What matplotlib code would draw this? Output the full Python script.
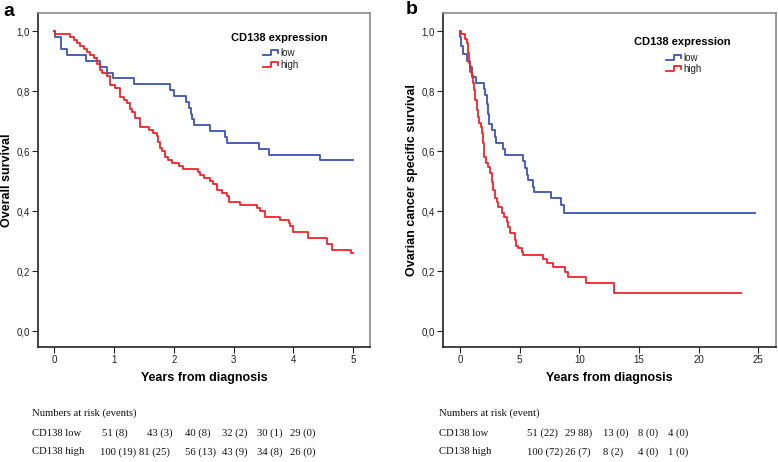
"""
CD138 expression - Kaplan-Meier curves (overall / ovarian cancer specific survival)
"""

import matplotlib
matplotlib.use('Agg')
import matplotlib.pyplot as plt
from matplotlib.ticker import FuncFormatter

# ── data ──
# panel a: overall survival, years 0-5
a_low_t = [0, 0.01, 0.11, 0.21, 0.54, 0.77, 0.89, 0.99, 1.33, 1.94, 2.00, 2.21, 2.25,
           2.28, 2.31, 2.33, 2.61, 2.86, 2.89, 3.42, 3.59, 4.44, 4.99]
a_low_s = [1.0, 0.98, 0.94, 0.92, 0.90, 0.88, 0.86, 0.843, 0.824, 0.804, 0.784, 0.765, 0.745,
           0.725, 0.706, 0.686, 0.667, 0.647, 0.627, 0.608, 0.588, 0.569, 0.569]

a_high_t = [0, 0.01, 0.27, 0.33, 0.39, 0.44, 0.50, 0.55, 0.60, 0.66, 0.71, 0.77, 0.80, 0.88,
            0.93, 1.02, 1.10, 1.16, 1.22, 1.26, 1.30, 1.35, 1.43, 1.58, 1.66, 1.72, 1.74,
            1.77, 1.80, 1.86, 1.91, 1.97, 2.08, 2.16, 2.41, 2.44, 2.50, 2.61, 2.65, 2.72,
            2.80, 2.89, 2.93, 3.10, 3.39, 3.44, 3.53, 3.77, 3.92, 3.95, 4.00, 4.25, 4.56,
            4.64, 4.96, 5.00]
a_high_s = [1.0, 0.99, 0.98, 0.97, 0.96, 0.95, 0.94, 0.93, 0.92, 0.91, 0.89, 0.87, 0.86, 0.85,
            0.82, 0.81, 0.78, 0.77, 0.76, 0.74, 0.73, 0.71, 0.68, 0.67, 0.66, 0.65, 0.63,
            0.61, 0.60, 0.58, 0.57, 0.56, 0.55, 0.54, 0.53, 0.52, 0.51, 0.50, 0.49, 0.47,
            0.46, 0.45, 0.43, 0.42, 0.41, 0.40, 0.38, 0.37, 0.36, 0.35, 0.33, 0.31, 0.29,
            0.27, 0.26, 0.26]

# panel b: ovarian cancer specific survival, years 0-25
b_low_t = [0, 0.03, 0.10, 0.22, 0.62, 0.84, 0.98, 1.34, 2.05, 2.13, 2.24, 2.32, 2.43, 2.66,
           2.94, 3.02, 3.64, 3.78, 5.25, 5.45, 5.59, 5.73, 6.15, 6.20, 7.61, 8.45, 8.72, 24.7]
b_low_s = [1.0, 0.98, 0.95, 0.925, 0.90, 0.88, 0.847, 0.827, 0.807, 0.787, 0.758, 0.725, 0.69,
           0.67, 0.647, 0.628, 0.607, 0.588, 0.567, 0.543, 0.52, 0.503, 0.48, 0.464, 0.442,
           0.42, 0.392, 0.392]

b_high_t = [0, 0.05, 0.42, 0.56, 0.70, 0.78, 0.84, 0.98, 1.06, 1.17, 1.26, 1.40, 1.48, 1.62,
            1.73, 1.82, 1.90, 2.01, 2.18, 2.38, 2.52, 2.66, 2.80, 2.94, 3.08, 3.22, 3.50,
            3.69, 3.92, 4.05, 4.20, 4.61, 4.70, 4.89, 5.17, 5.31, 6.99, 7.27, 7.83, 8.81,
            9.09, 10.57, 12.92, 23.55]
b_high_s = [1.0, 0.99, 0.975, 0.959, 0.926, 0.892, 0.864, 0.853, 0.826, 0.803, 0.77, 0.737,
            0.714, 0.692, 0.681, 0.659, 0.626, 0.581, 0.559, 0.548, 0.526, 0.498, 0.47, 0.442,
            0.431, 0.414, 0.392, 0.381, 0.362, 0.348, 0.326, 0.303, 0.283, 0.276, 0.264,
            0.253, 0.239, 0.228, 0.212, 0.198, 0.181, 0.161, 0.128, 0.128]

# numbers at risk tables
a_risk_header = "Numbers at risk (events)"
a_risk_low = ["51 (8)", "43 (3)", "40 (8)", "32 (2)", "30 (1)", "29 (0)"]
a_risk_high = ["100 (19)", "81 (25)", "56 (13)", "43 (9)", "34 (8)", "26 (0)"]
b_risk_header = "Numbers at risk (event)"
b_risk_low = ["51 (22)", "29 88)", "13 (0)", "8 (0)", "4 (0)"]
b_risk_high = ["100 (72)", "26 (7)", "8 (2)", "4 (0)", "1 (0)"]

LOW_COLOR = "#3c54b4"
HIGH_COLOR = "#f5222a"
SANS = "Liberation Sans"
SERIF = "Liberation Serif"

W, H = 778, 462
fig = plt.figure(figsize=(W / 100, H / 100), dpi=100)


def px(x, y):
    """pixel position (from top-left) -> figure fraction"""
    return x / W, 1 - y / H


def comma(v, pos):
    return f"{v:.1f}".replace(".", ",")


def make_axes(left, right, top, bottom, xlim, xticks, ylabel, letter_xy, letter):
    x0, y0 = px(left, bottom)
    x1, y1 = px(right, top)
    ax = fig.add_axes([x0, y0, x1 - x0, y1 - y0])
    ax.set_xlim(*xlim)
    ax.set_ylim(-0.053, 1.06)
    ax.set_xticks(xticks)
    ax.set_yticks([0, 0.2, 0.4, 0.6, 0.8, 1.0])
    ax.yaxis.set_major_formatter(FuncFormatter(comma))
    ax.tick_params(direction='out', length=4, width=0.8, labelsize=7, colors='#222222', pad=2)
    for lab in ax.get_xticklabels() + ax.get_yticklabels():
        lab.set_family(SANS)
    for side in ("left", "bottom"):
        ax.spines[side].set_color("#222222")
        ax.spines[side].set_linewidth(1.2)
    for side in ("top", "right"):
        ax.spines[side].set_color("#8a8a8a")
        ax.spines[side].set_linewidth(1.2)
    ax.set_xlabel("Years from diagnosis", fontsize=9, fontweight='bold', family=SANS)
    ax.xaxis.set_label_coords(0.5, -(378 - bottom) / (bottom - top))
    ax.xaxis.label.set_va('center')
    ax.set_ylabel(ylabel, fontsize=9, fontweight='bold', family=SANS)
    ax.yaxis.set_label_coords(-(left - letter_xy[2]) / (right - left), 0.5)
    ax.yaxis.label.set_va('center')
    fig.text(*px(*letter_xy[:2]), letter, fontsize=14, fontweight='bold', family=SANS,
             ha='center', va='center')
    return ax


def legend(title_xy, sample_x, rows_y, label_x):
    fig.text(*px(*title_xy), "CD138 expression", fontsize=8, fontweight='bold', family=SANS,
             ha='center', va='center')
    for yy, color, name in zip(rows_y, (LOW_COLOR, HIGH_COLOR), ("low", "high")):
        xs = [sample_x, sample_x + 8, sample_x + 8, sample_x + 15, sample_x + 15]
        ys = [yy + 2, yy + 2, yy - 3, yy - 3, yy]
        fx = [px(a, b)[0] for a, b in zip(xs, ys)]
        fy = [px(a, b)[1] for a, b in zip(xs, ys)]
        fig.add_artist(plt.Line2D(fx, fy, color=color, lw=1.3, transform=fig.transFigure))
        fig.text(*px(label_x, yy), name, fontsize=7, family=SANS, ha='left', va='center',
                 color='#222222')


def risk_table(header, low, high, x_label, x_cols_low, x_cols_high):
    kw = dict(fontsize=7.7, family=SERIF, ha='left', va='center', color='#111111')
    fig.text(*px(x_label, 413), header, **kw)
    fig.text(*px(x_label, 433), "CD138 low", **kw)
    fig.text(*px(x_label, 452), "CD138 high", **kw)
    for xx, s in zip(x_cols_low, low):
        fig.text(*px(xx, 433), s, **kw)
    for xx, s in zip(x_cols_high, high):
        fig.text(*px(xx, 452), s, **kw)


# ── panel a ──
ax = make_axes(38, 370, 13, 347, (-0.27, 5.28), [0, 1, 2, 3, 4, 5],
               "Overall survival", (9, 11, 7), "a")
ax.step(a_low_t, a_low_s, where='post', color=LOW_COLOR, lw=1.3)
ax.step(a_high_t, a_high_s, where='post', color=HIGH_COLOR, lw=1.3)
legend((279, 38), 263, (53, 65), 280)
risk_table(a_risk_header, a_risk_low, a_risk_high, 32,
           [102, 147, 185, 222, 257, 290], [100, 139, 185, 222, 257, 290])

# ── panel b ──
ax = make_axes(443, 776, 13, 347, (-1.43, 26.5), [0, 5, 10, 15, 20, 25],
               "Ovarian cancer specific survival", (412, 10, 412), "b")
ax.step(b_low_t, b_low_s, where='post', color=LOW_COLOR, lw=1.3)
ax.step(b_high_t, b_high_s, where='post', color=HIGH_COLOR, lw=1.3)
legend((682, 42), 666, (58, 69), 683)
risk_table(b_risk_header, b_risk_low, b_risk_high, 439,
           [527, 565, 603, 638, 668], [527, 565, 603, 638, 668])

plt.savefig("out.png", dpi=100)
plt.close()
